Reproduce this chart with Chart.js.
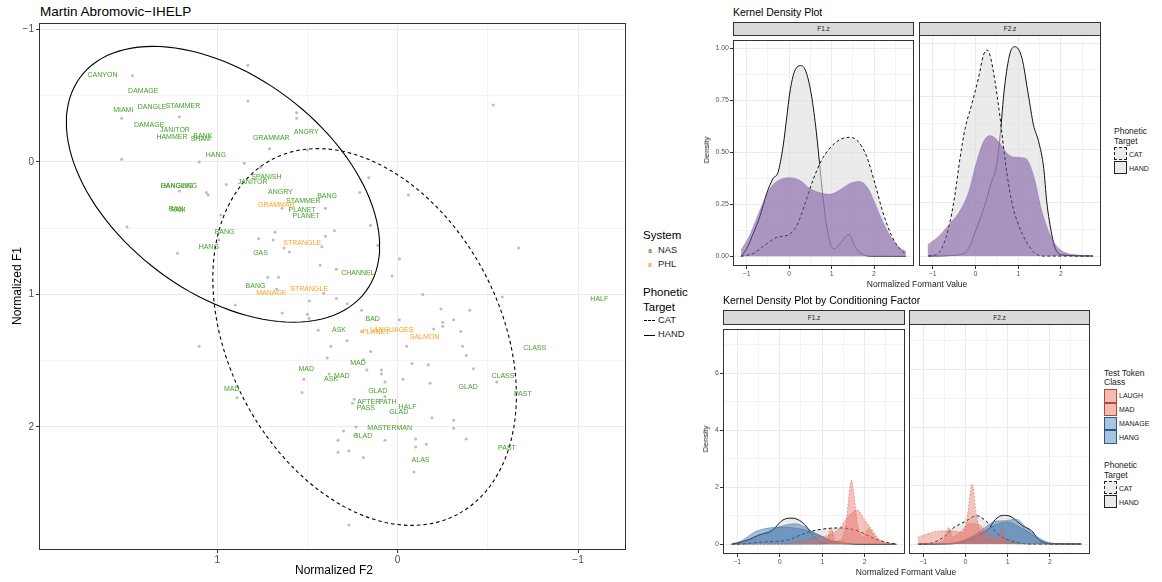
<!DOCTYPE html>
<html>
<head>
<meta charset="utf-8">
<title>Martin Abromovic - IHELP</title>
<script src="https://cdn.jsdelivr.net/npm/chart.js@4.4.1/dist/chart.umd.min.js"></script>
<style>
  html, body { margin: 0; padding: 0; background: #fff; }
  body {
    width: 1162px; height: 582px; position: relative; overflow: hidden;
    font-family: "Liberation Sans", Arial, Helvetica, sans-serif; color: #1a1a1a;
  }
  .box { position: absolute; }
  .t { position: absolute; white-space: nowrap; line-height: 1; }
  .l { transform: translateY(-50%); }
  .c { transform: translate(-50%, -50%); }
  .r { transform: translate(-50%, -50%) rotate(-90deg); }
  .strip {
    position: absolute; box-sizing: border-box; background: #d9d9d9; border: 1px solid #333;
    font-size: 6.5px; text-align: center; color: #1a1a1a;
  }
  .key { position: absolute; box-sizing: border-box; width: 13px; height: 13px; }
</style>
</head>
<body>

<!-- scatter of normalized formants -->
<div class="t l" style="left:40px;top:12px;font-size:13.5px;color:#000">Martin Abromovic−IHELP</div>
<div class="box" style="left:0;top:0;width:630px;height:582px"><canvas id="scatter"></canvas></div>
<div class="t c" style="left:334px;top:570px;font-size:12px;color:#000">Normalized F2</div>
<div class="t r" style="left:17px;top:286px;font-size:12px;color:#000">Normalized F1</div>

<div class="t l" style="left:643px;top:236px;font-size:11.5px;color:#000">System</div>
<div class="t c" style="left:650px;top:251px;font-size:6.5px;font-weight:bold;color:#44a12a">a</div>
<div class="t l" style="left:658px;top:251px;font-size:9.3px">NAS</div>
<div class="t c" style="left:650px;top:264.5px;font-size:6.5px;font-weight:bold;color:#ffa020">a</div>
<div class="t l" style="left:658px;top:264.5px;font-size:9.3px">PHL</div>
<div class="t l" style="left:643px;top:292.7px;font-size:11.5px;color:#000">Phonetic</div>
<div class="t l" style="left:643px;top:307.5px;font-size:11.5px;color:#000">Target</div>
<div class="box" style="left:644px;top:320px;width:11px;border-top:1px dashed #000"></div>
<div class="t l" style="left:658px;top:321px;font-size:9.3px">CAT</div>
<div class="box" style="left:644px;top:334.5px;width:11px;border-top:1px solid #000"></div>
<div class="t l" style="left:658px;top:335px;font-size:9.3px">HAND</div>

<!-- overall densities -->
<div class="t l" style="left:733px;top:12px;font-size:10.5px;color:#000">Kernel Density Plot</div>
<div class="strip" style="left:733px;top:22px;width:181px;height:14px;line-height:12px">F1.z</div>
<div class="strip" style="left:919px;top:22px;width:182px;height:14px;line-height:12px">F2.z</div>
<div class="box" style="left:700px;top:35px;width:214px;height:245px"><canvas id="topF1"></canvas></div>
<div class="box" style="left:919px;top:35px;width:182px;height:245px"><canvas id="topF2"></canvas></div>
<div class="t r" style="left:706.5px;top:150px;font-size:8px">Density</div>
<div class="t c" style="left:917px;top:283.5px;font-size:8.5px">Normalized Formant Value</div>

<div class="t l" style="left:1114px;top:131px;font-size:8.5px">Phonetic</div>
<div class="t l" style="left:1114px;top:141px;font-size:8.5px">Target</div>
<div class="key" style="left:1114px;top:147px;background:#ebebeb;border:1px dashed #222"></div>
<div class="t l" style="left:1129px;top:154px;font-size:7px">CAT</div>
<div class="key" style="left:1114px;top:161px;background:#ebebeb;border:1px solid #222"></div>
<div class="t l" style="left:1129px;top:167.5px;font-size:7px">HAND</div>

<!-- densities by test token class -->
<div class="t l" style="left:723px;top:300px;font-size:10.5px;color:#000">Kernel Density Plot by Conditioning Factor</div>
<div class="strip" style="left:723px;top:310px;width:182px;height:15px;line-height:13px">F1.z</div>
<div class="strip" style="left:909px;top:310px;width:181px;height:15px;line-height:13px">F2.z</div>
<div class="box" style="left:690px;top:324px;width:215px;height:252px"><canvas id="botF1"></canvas></div>
<div class="box" style="left:909px;top:324px;width:181px;height:252px"><canvas id="botF2"></canvas></div>
<div class="t r" style="left:705.5px;top:439px;font-size:8px">Density</div>
<div class="t c" style="left:906px;top:572px;font-size:8.5px">Normalized Formant Value</div>

<div class="t l" style="left:1104px;top:372.7px;font-size:8.5px">Test Token</div>
<div class="t l" style="left:1104px;top:381.7px;font-size:8.5px">Class</div>
<div class="key" style="left:1104px;top:389px;height:13.5px;background:#f3bcb2;border:1.3px solid #b5473b"></div>
<div class="t l" style="left:1119px;top:395.3px;font-size:7px">LAUGH</div>
<div class="key" style="left:1104px;top:402.7px;height:13.5px;background:#f3bcb2;border:1.3px solid #b5473b"></div>
<div class="t l" style="left:1119px;top:409.3px;font-size:7px">MAD</div>
<div class="key" style="left:1104px;top:416.5px;height:13.5px;background:#a9c4de;border:1.3px solid #2a5a8c"></div>
<div class="t l" style="left:1119px;top:423.3px;font-size:7px">MANAGE</div>
<div class="key" style="left:1104px;top:430px;height:13.5px;background:#a9c4de;border:1.3px solid #2a5a8c"></div>
<div class="t l" style="left:1119px;top:437px;font-size:7px">HANG</div>
<div class="t l" style="left:1104px;top:465px;font-size:8.5px">Phonetic</div>
<div class="t l" style="left:1104px;top:474.5px;font-size:8.5px">Target</div>
<div class="key" style="left:1104px;top:481px;background:#ebebeb;border:1px dashed #222"></div>
<div class="t l" style="left:1119px;top:488.3px;font-size:7px">CAT</div>
<div class="key" style="left:1104px;top:495px;background:#ebebeb;border:1px solid #222"></div>
<div class="t l" style="left:1119px;top:502px;font-size:7px">HAND</div>

<script>
// ---- scatter data: [normalized F2, normalized F1] ----
const grayPoints = [
  [1.47,-0.65],[0.83,-0.73],[0.83,-0.46],[1.21,-0.34],[1.53,-0.33],[0.56,-0.37],[0.56,-0.33],
  [0.71,-0.10],[0.50,-0.09],[1.53,-0.02],[1.10,0.00],[0.85,0.01],[0.76,0.04],[0.95,0.17],
  [1.21,0.22],[1.06,0.23],[1.05,0.25],[1.50,0.49],[0.98,0.40],[0.64,0.35],[0.40,0.35],
  [0.21,0.23],[0.16,0.12],[1.22,0.69],[0.99,0.59],[0.77,0.58],[0.69,0.59],[0.68,0.53],
  [0.40,0.56],[0.35,0.52],[0.15,0.48],[0.63,0.65],[0.60,0.68],[0.42,0.64],[0.11,0.63],
  [-0.01,0.73],[0.43,0.78],[0.34,0.81],[0.72,0.87],[0.66,0.87],[0.03,0.86],[0.67,0.96],
  [0.41,0.99],[0.34,1.03],[-0.53,-0.43],[-0.06,0.25],[-0.67,0.65],[-0.14,1.00],[-0.58,1.02],
  [0.49,1.05],[0.90,1.08],[0.28,1.07],[0.64,1.14],[0.50,1.15],[0.49,1.18],[0.20,1.12],
  [0.44,1.27],[0.20,1.28],[0.28,1.35],[1.10,1.39],[0.37,1.39],[0.15,1.43],[0.39,1.48],
  [0.19,1.49],[0.17,1.57],[0.09,1.57],[0.09,1.60],[0.38,1.60],[0.52,1.64],[0.07,1.66],
  [0.53,1.74],[0.89,1.78],[0.07,1.77],[0.24,1.79],[0.25,1.82],[0.23,2.00],[0.30,2.03],
  [0.23,2.06],[0.33,2.10],[0.07,2.10],[0.27,2.18],[0.33,2.19],[0.19,2.23],[0.27,2.74],
  [-0.24,1.11],[-0.40,1.12],[-0.01,1.19],[-0.31,1.19],[-0.25,1.21],[-0.25,1.24],[-0.20,1.26],
  [-0.35,1.28],[-0.36,1.39],[-0.05,1.39],[-0.38,1.46],[-0.08,1.52],[-0.17,1.53],[-0.42,1.56],
  [-0.03,1.64],[-0.55,1.66],[-0.18,1.67],[-0.19,1.93],[-0.31,1.95],[-0.31,2.01],[-0.10,2.09],
  [-0.16,2.13],[-0.10,2.15],[-0.38,2.09],[-0.09,2.34]
];

const nasLabels = [
  ['CANYON',1.636,-0.658],['DAMAGE',1.410,-0.538],['MIAMI',1.521,-0.394],['DANGLE',1.361,-0.417],
  ['STAMMER',1.190,-0.425],['DAMAGE',1.377,-0.281],['JANITOR',1.234,-0.244],['HAMMER',1.251,-0.191],
  ['BANK',1.080,-0.198],['SHAM',1.091,-0.176],['GRAMMAR',0.700,-0.183],['ANGRY',0.507,-0.228],
  ['HANG',1.008,-0.048],['SPANISH',0.727,0.118],['JANITOR',0.804,0.149],['DANGLING',1.212,0.179],
  ['HANGING',1.223,0.179],['RAN',1.229,0.352],['RAM',1.218,0.367],['ANGRY',0.650,0.224],
  ['BANG',0.391,0.254],['STAMMER',0.523,0.299],['PLANET',0.529,0.367],['PLANET',0.507,0.405],
  ['BANG',0.959,0.526],['HANG',1.047,0.639],['GAS',0.760,0.684],['CHANNEL',0.220,0.835],
  ['BANG',0.788,0.940],['ASK',0.325,1.265],['BAD',0.138,1.189],['HALF',-1.118,1.038],
  ['CLASS',-0.760,1.408],['MAD',0.220,1.521],['MAD',0.507,1.566],['MAD',0.309,1.612],
  ['ASK',0.369,1.642],['CLASS',-0.584,1.619],['MAD',0.920,1.711],['GLAD',0.110,1.732],
  ['GLAD',-0.391,1.702],['PAST',-0.694,1.755],['AFTER',0.160,1.815],['PATH',0.055,1.815],
  ['HALF',-0.055,1.853],['PASS',0.176,1.860],['GLAD',-0.006,1.890],['MASTERMAN',0.044,2.011],
  ['GLAD',0.193,2.072],['PAST',-0.606,2.162],['ALAS',-0.127,2.253]
];

const phlLabels = [
  ['GRAMMAR',0.672,0.322],['STRANGLE',0.529,0.616],['MANAGE',0.700,0.986],['STRANGLE',0.490,0.963],
  ['PLANET',0.121,1.287],['LANGUAGES',0.033,1.265],['SALMON',-0.149,1.318]
];

// confidence ellipses: centre and the two semi-axis vectors, in data units
const handEllipse = { center: [0.968, 0.169], axisA: [-0.7915, 0.8078], axisB: [0.3573, 0.6560] };
const catEllipse = { center: [0.183, 1.321], axisA: [-0.5154, 1.3382], axisB: [0.6653, 0.4800] };

const F2_TICKS = [1, 0.5, 0, -0.5, -1];
const F1_TICKS = [-1, -0.5, 0, 0.5, 1, 1.5, 2];

// ---- kernel densities: [normalized formant value, density] ----
const f1Hand = [[-1.13,0],[-1.0,0.036],[-0.85,0.107],[-0.69,0.19],[-0.53,0.30],[-0.38,0.373],
  [-0.26,0.404],[-0.14,0.53],[-0.06,0.66],[0.02,0.79],[0.13,0.89],[0.29,0.917],[0.41,0.88],
  [0.53,0.77],[0.64,0.60],[0.74,0.40],[0.84,0.21],[0.96,0.067],[1.07,0.036],[1.19,0.06],
  [1.41,0.103],[1.58,0.036],[1.78,0.005],[1.98,0],[2.75,0]];
const f1Cat = [[-1.13,0],[-0.85,0.013],[-0.53,0.06],[-0.3,0.09],[0.02,0.107],[0.21,0.16],
  [0.37,0.25],[0.56,0.365],[0.76,0.46],[0.96,0.52],[1.19,0.56],[1.43,0.572],[1.62,0.553],
  [1.82,0.483],[2.02,0.35],[2.21,0.21],[2.41,0.10],[2.60,0.036],[2.75,0.01]];
const f1All = [[-1.13,0.03],[-0.93,0.10],[-0.69,0.22],[-0.45,0.325],[-0.22,0.368],[0.05,0.378],
  [0.25,0.365],[0.49,0.326],[0.72,0.306],[0.96,0.298],[1.19,0.318],[1.43,0.35],[1.66,0.359],
  [1.86,0.326],[2.05,0.24],[2.25,0.146],[2.45,0.075],[2.64,0.036],[2.75,0.024]];

const f2Hand = [[-1.1,0],[-0.4,0.005],[-0.16,0.036],[-0.01,0.11],[0.19,0.22],[0.38,0.35],
  [0.5,0.43],[0.58,0.57],[0.68,0.79],[0.81,0.953],[0.93,0.984],[1.09,0.93],[1.24,0.757],
  [1.36,0.616],[1.48,0.538],[1.6,0.412],[1.67,0.255],[1.79,0.099],[1.87,0.036],[2.03,0.005],[2.75,0]];
const f2Cat = [[-1.1,0],[-0.87,0.013],[-0.63,0.13],[-0.48,0.287],[-0.36,0.46],[-0.24,0.60],
  [-0.09,0.71],[0.07,0.835],[0.19,0.945],[0.27,0.969],[0.34,0.945],[0.46,0.82],[0.58,0.647],
  [0.70,0.444],[0.85,0.255],[1.01,0.146],[1.17,0.075],[1.36,0.02],[1.56,0],[2.75,0]];
const f2All = [[-1.12,0.052],[-0.87,0.09],[-0.63,0.146],[-0.4,0.2],[-0.16,0.30],[0.03,0.444],
  [0.19,0.538],[0.34,0.566],[0.54,0.538],[0.74,0.483],[0.93,0.464],[1.17,0.46],[1.36,0.38],
  [1.56,0.208],[1.75,0.099],[1.95,0.036],[2.14,0.013],[2.42,0.005],[2.73,0]];

// by test token class
const f1Laugh = [[-1.13,0],[0.9,0],[1.1,0.05],[1.21,0.6],[1.3,0.1],[1.45,0.15],[1.56,0.7],
  [1.63,1.7],[1.69,2.25],[1.75,1.7],[1.83,0.7],[1.95,0.25],[2.1,0.55],[2.2,0.35],[2.4,0.05],[2.73,0]];
const f1Mad = [[-1.13,0],[0.2,0.02],[0.5,0.12],[0.8,0.22],[1.1,0.3],[1.4,0.55],[1.6,0.95],
  [1.83,1.2],[2.0,0.85],[2.12,0.62],[2.3,0.25],[2.5,0.05],[2.73,0]];
const f1Manage = [[-1.13,0.02],[-0.9,0.12],[-0.6,0.42],[-0.3,0.56],[0,0.6],[0.3,0.58],[0.6,0.5],
  [0.9,0.35],[1.2,0.14],[1.5,0.03],[1.8,0],[2.73,0]];
const f1Hang = [[-1.13,0],[-0.8,0.08],[-0.5,0.3],[-0.2,0.5],[0.1,0.66],[0.35,0.72],[0.6,0.6],
  [0.9,0.32],[1.2,0.1],[1.5,0.02],[1.8,0],[2.73,0]];

const f2Laugh = [[-1.13,0.22],[-0.9,0.35],[-0.6,0.45],[-0.3,0.45],[-0.05,0.4],[0.05,1.0],
  [0.16,2.06],[0.26,1.0],[0.38,0.3],[0.6,0.1],[0.8,0.3],[0.87,0.57],[0.95,0.2],[1.2,0.03],[1.5,0],[2.73,0]];
const f2Mad = [[-1.13,0],[-0.6,0.05],[-0.48,0.2],[-0.4,0.57],[-0.3,0.25],[-0.1,0.45],[0.1,0.7],
  [0.3,0.68],[0.5,0.45],[0.7,0.2],[1.0,0.05],[1.3,0],[2.73,0]];
const f2Manage = [[-1.13,0],[-0.5,0.01],[-0.1,0.1],[0.2,0.3],[0.45,0.55],[0.7,0.78],[0.95,0.8],
  [1.2,0.85],[1.45,0.55],[1.7,0.25],[1.95,0.06],[2.2,0.01],[2.73,0]];
const f2Hang = [[-1.13,0],[-0.3,0.02],[0.1,0.15],[0.4,0.4],[0.7,0.65],[1.0,0.75],[1.25,0.6],
  [1.5,0.4],[1.75,0.15],[2.0,0.03],[2.73,0]];

const FORMANT_TICKS = [-1, -0.5, 0, 0.5, 1, 1.5, 2, 2.5];
const DENSITY_TICKS = [0, 0.125, 0.25, 0.375, 0.5, 0.625, 0.75, 0.875, 1];
const COND_DENSITY_TICKS = [0, 1, 2, 3, 4, 5, 6, 7];

const FONT = '"Liberation Sans", Arial, Helvetica, sans-serif';
const NAS_COLOR = '#44a12a';
const PHL_COLOR = '#ffa020';
const GRAY_FILL = 'rgba(222,222,222,0.6)';
const PURPLE_FILL = 'rgba(118,80,160,0.55)';
const RED_FILL = 'rgba(230,105,90,0.4)';
const RED_LINE = 'rgba(214,80,66,0.7)';
const BLUE_FILL = 'rgba(60,115,170,0.45)';
const BLUE_LINE = 'rgba(35,85,140,0.6)';

Chart.defaults.font.family = FONT;

const minus = v => String(v).replace('-', '\u2212');

// full box around each panel
const panelBorder = {
  id: 'panelBorder',
  afterDraw(chart) {
    const a = chart.chartArea, ctx = chart.ctx;
    ctx.save();
    ctx.strokeStyle = '#333333';
    ctx.lineWidth = 1;
    ctx.strokeRect(Math.round(a.left) + 0.5, Math.round(a.top) + 0.5,
      Math.round(a.right - a.left) - 1, Math.round(a.bottom - a.top) - 1);
    ctx.restore();
  }
};

// word labels on the scatter
const wordLabels = {
  id: 'wordLabels',
  afterDatasetsDraw(chart) {
    const { ctx, scales: { x, y } } = chart;
    ctx.save();
    ctx.font = '7px ' + FONT;
    ctx.textAlign = 'center';
    ctx.textBaseline = 'middle';
    [[nasLabels, NAS_COLOR], [phlLabels, PHL_COLOR]].forEach(([list, color]) => {
      ctx.fillStyle = color;
      list.forEach(([word, f2, f1]) => ctx.fillText(word, x.getPixelForValue(f2), y.getPixelForValue(f1)));
    });
    ctx.restore();
  }
};

function ellipsePath(e) {
  const pts = [];
  for (let i = 0; i <= 120; i++) {
    const t = i / 120 * Math.PI * 2;
    pts.push([
      e.center[0] + e.axisA[0] * Math.cos(t) + e.axisB[0] * Math.sin(t),
      e.center[1] + e.axisA[1] * Math.cos(t) + e.axisB[1] * Math.sin(t)
    ]);
  }
  return pts;
}

function axis(o) {
  const show = o.showLabels !== false;
  return {
    type: 'linear',
    min: o.min, max: o.max, reverse: !!o.reverse,
    afterBuildTicks: s => { s.ticks = o.ticks.map(v => ({ value: v })); },
    afterFit: s => { if (o.horizontal) s.height = o.size; else s.width = o.size; },
    border: { display: false },
    grid: {
      color: c => (c.tick && o.major(c.tick.value)) ? '#ebebeb' : '#f3f3f3',
      lineWidth: 1,
      drawTicks: show,
      tickLength: 3,
      tickColor: c => (c.tick && o.major(c.tick.value)) ? '#333333' : 'rgba(0,0,0,0)'
    },
    ticks: {
      display: show, autoSkip: false, maxRotation: 0, padding: o.padding || 1,
      color: o.color || '#555555',
      font: { family: FONT, size: o.fontSize },
      callback: v => o.major(v) ? o.label(v) : ''
    }
  };
}

const baseOptions = (scales, padding) => ({
  responsive: true, maintainAspectRatio: false, animation: false, devicePixelRatio: 1,
  events: [],
  layout: { padding: padding || 0 },
  plugins: { legend: { display: false }, tooltip: { enabled: false } },
  elements: { point: { radius: 0 }, line: { cubicInterpolationMode: 'monotone' } },
  scales
});

// ---- left: scatter with ellipses ----
new Chart(document.getElementById('scatter'), {
  type: 'scatter',
  data: {
    datasets: [
      { data: grayPoints, pointRadius: 1.5, pointBackgroundColor: 'rgba(165,165,165,0.75)', pointBorderWidth: 0, order: 3 },
      { data: ellipsePath(handEllipse), showLine: true, pointRadius: 0, borderColor: '#000', borderWidth: 1.1, tension: 0, order: 2 },
      { data: ellipsePath(catEllipse), showLine: true, pointRadius: 0, borderColor: '#000', borderWidth: 1.1, borderDash: [3.5, 3], tension: 0, order: 1 }
    ]
  },
  options: {
    ...baseOptions({
      x: axis({ min: -1.266, max: 1.988, reverse: true, ticks: F2_TICKS, horizontal: true, size: 32,
        major: Number.isInteger, label: minus, fontSize: 10, padding: 0, color: '#4d4d4d' }),
      y: axis({ min: -1.048, max: 2.928, reverse: true, ticks: F1_TICKS, size: 39,
        major: Number.isInteger, label: minus, fontSize: 10, padding: 2, color: '#4d4d4d' })
    }, { top: 23, right: 1 }),
    elements: { line: { tension: 0 } }
  },
  plugins: [wordLabels, panelBorder]
});

// ---- right: density panels ----
const line = (data, extra) => Object.assign({ data, fill: 'origin', pointRadius: 0, borderWidth: 1 }, extra);

const grayHand = d => line(d, { backgroundColor: GRAY_FILL, borderColor: '#111', order: 20 });
const grayCat = d => line(d, { backgroundColor: GRAY_FILL, borderColor: '#111', borderDash: [3, 2.5], order: 19 });

const formantX = (min, max) => axis({ min, max, ticks: FORMANT_TICKS, horizontal: true,
  major: Number.isInteger, label: minus, fontSize: 7 });

function densityChart(id, datasets, xs, ys) {
  new Chart(document.getElementById(id), {
    type: 'line',
    data: { datasets },
    options: baseOptions({ x: xs, y: ys }),
    plugins: [panelBorder]
  });
}

const topY = show => axis({ min: -0.047, max: 1.039, ticks: DENSITY_TICKS, size: show ? 33 : 0, showLabels: show,
  major: v => Number.isInteger(v * 4), label: v => v.toFixed(2), fontSize: 7 });
const topX = () => Object.assign(formantX(-1.32, 2.94), { afterFit: s => { s.height = 14; } });

densityChart('topF1', [
  grayHand(f1Hand), grayCat(f1Cat),
  line(f1All, { backgroundColor: PURPLE_FILL, borderColor: 'rgba(100,65,140,0.45)', borderWidth: 0.6, order: 1 })
], topX(), topY(true));

densityChart('topF2', [
  grayHand(f2Hand), grayCat(f2Cat),
  line(f2All, { backgroundColor: PURPLE_FILL, borderColor: 'rgba(100,65,140,0.45)', borderWidth: 0.6, order: 1 })
], topX(), topY(false));

const botY = show => axis({ min: -0.343, max: 7.555, ticks: COND_DENSITY_TICKS, size: show ? 33 : 0, showLabels: show,
  major: v => v % 2 === 0, label: v => String(v), fontSize: 7 });
const botX = () => Object.assign(formantX(-1.335, 2.95), { afterFit: s => { s.height = 22; } });

const redSet = (d, o) => line(d, { backgroundColor: RED_FILL, borderColor: RED_LINE, borderWidth: 0.7, borderDash: [2, 1.5], order: o });
const blueSet = (d, o) => line(d, { backgroundColor: BLUE_FILL, borderColor: BLUE_LINE, borderWidth: 0.7, order: o });

densityChart('botF1', [
  grayHand(f1Hand), grayCat(f1Cat),
  blueSet(f1Manage, 6), blueSet(f1Hang, 5), redSet(f1Mad, 4), redSet(f1Laugh, 3)
], botX(), botY(true));

densityChart('botF2', [
  grayHand(f2Hand), grayCat(f2Cat),
  blueSet(f2Manage, 6), blueSet(f2Hang, 5), redSet(f2Mad, 4), redSet(f2Laugh, 3)
], botX(), botY(false));
</script>
</body>
</html>
